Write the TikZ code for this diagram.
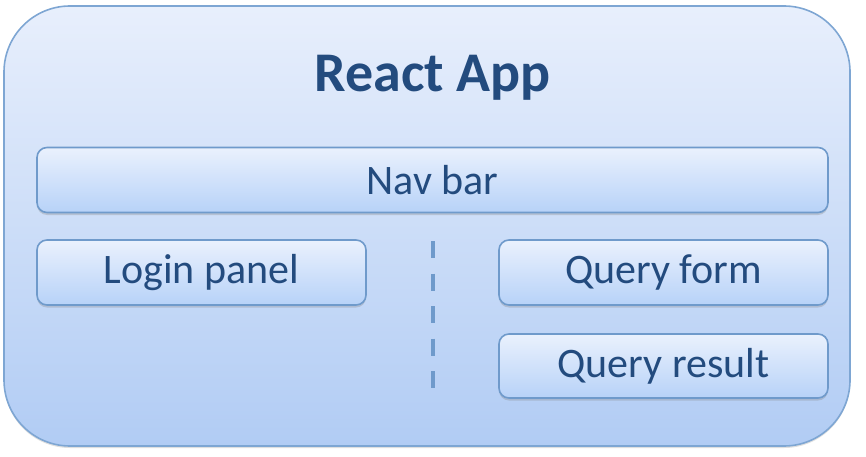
\documentclass[tikz,border=0pt]{standalone}
\usepackage{fontspec}
\setmainfont{Carlito}
\usetikzlibrary{shadows}
\definecolor{apptext}{HTML}{234B7E}
\definecolor{appedge}{HTML}{7EA6D3}
\definecolor{boxedge}{HTML}{6F9ACB}
\definecolor{apptop}{HTML}{E8EFFC}
\definecolor{appbot}{HTML}{B1CCF4}
\definecolor{boxtop}{HTML}{EAF1FD}
\definecolor{boxbot}{HTML}{B7D2F8}
\tikzset{
  panel/.style={rectangle,rounded corners=10pt,draw=boxedge,line width=1.6pt,
    top color=boxtop,bottom color=boxbot,text=apptext,font=\fontsize{42}{50}\selectfont,
    minimum height=65pt,inner sep=0pt,
    execute at begin node=\lower3.5pt\hbox\bgroup,execute at end node=\egroup,
    drop shadow={shadow xshift=0pt,shadow yshift=-2.5pt,opacity=0.3}},
}
\begin{document}
\begin{tikzpicture}[x=1pt,y=1pt]
\useasboundingbox (0,0) rectangle (866,456);
\draw[draw=appedge,line width=1.6pt,rounded corners=66pt,top color=apptop,bottom color=appbot,
  drop shadow={shadow xshift=0pt,shadow yshift=-2pt,opacity=0.25}] (4,10) rectangle (850,450);
\node[text=apptext,font=\fontsize{56}{64}\bfseries] (title) at (432.5,378) {React App};
\node[panel,minimum width=791pt] (nav) at (432.5,276) {Nav bar};
\node[panel,minimum width=329pt] (login) at (201.5,183.5) {Login panel};
\node[panel,minimum width=329pt] (form) at (663.5,183.5) {Query form};
\node[panel,minimum width=329pt,minimum height=64pt] (result) at (663.5,90) {Query result};
\coordinate (sep top) at (432.5,215);
\coordinate (sep bot) at (432.5,64);
\draw[boxedge,line width=4pt,dash pattern=on 17pt off 15.5pt] (sep top) -- (sep bot);
\end{tikzpicture}
\end{document}
